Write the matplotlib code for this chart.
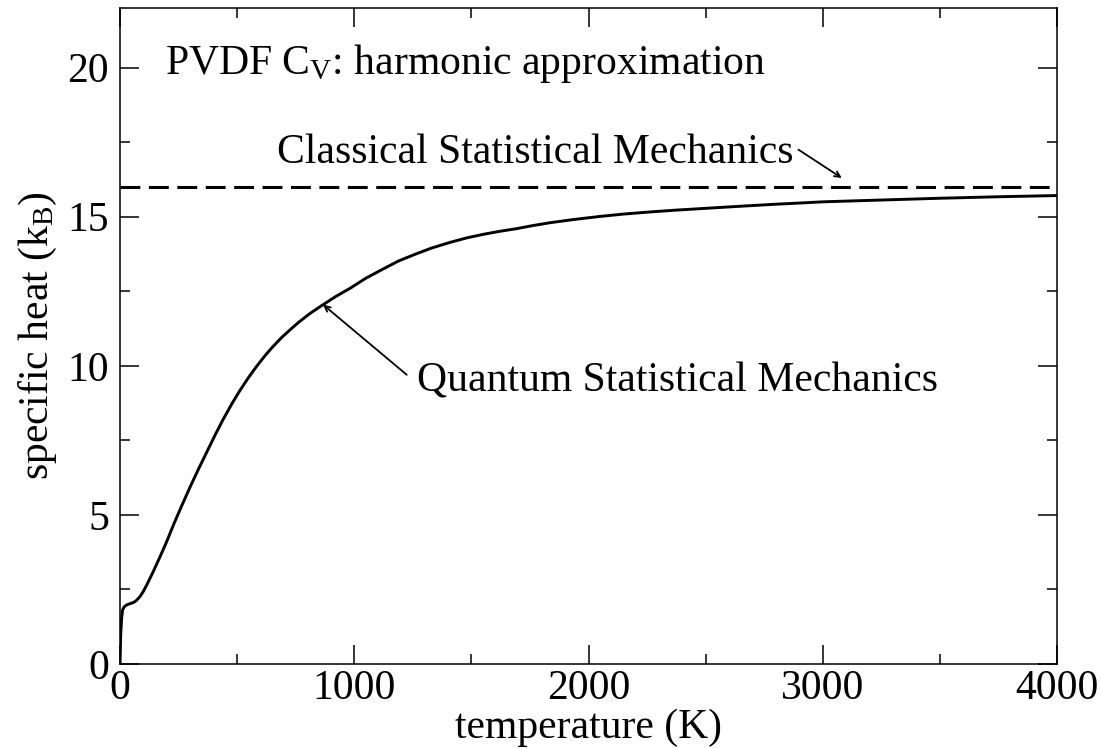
import numpy as np
import matplotlib
matplotlib.use("Agg")
import matplotlib.pyplot as plt
from matplotlib.ticker import MultipleLocator

# donnees
temperature = [0, 3, 7, 11, 18, 28, 45, 57, 70, 85, 100, 114, 142, 171, 199,
               230, 263, 300, 334, 370, 406, 440, 477, 510, 548, 580, 619, 650,
               690, 725, 761, 810, 861, 920, 982, 1050, 1124, 1190, 1266, 1330,
               1409, 1480, 1551, 1620, 1693, 1760, 1836, 1940, 2049, 2150,
               2262, 2370, 2476, 2580, 2689, 2800, 2903, 3000, 3250, 3500,
               3750, 4000]
cv_quantum = [0.0, 1.0, 1.55, 1.81, 1.92, 1.98, 2.03, 2.06, 2.13, 2.26, 2.44,
              2.65, 3.10, 3.60, 4.10, 4.7, 5.3, 5.95, 6.52, 7.1, 7.68, 8.2,
              8.72, 9.15, 9.6, 9.95, 10.34, 10.62, 10.95, 11.2, 11.45, 11.75,
              12.02, 12.32, 12.6, 12.94, 13.25, 13.52, 13.76, 13.95, 14.14,
              14.29, 14.41, 14.51, 14.6, 14.7, 14.8, 14.91, 15.01, 15.09,
              15.16, 15.22, 15.27, 15.32, 15.37, 15.42, 15.46, 15.5, 15.56,
              15.62, 15.67, 15.71]
cv_classical = 16.0

plt.rcParams['font.family'] = ['Liberation Serif', 'DejaVu Serif']
plt.rcParams['mathtext.fontset'] = 'custom'
plt.rcParams['mathtext.rm'] = 'Liberation Serif'
plt.rcParams['mathtext.it'] = 'Liberation Serif:italic'

fig = plt.figure(figsize=(11.02, 7.48), dpi=100)
ax = fig.add_axes([0.1089, 0.1123, 0.8503, 0.877])

ax.plot(temperature, cv_quantum, color='black', linewidth=2.1,
        solid_joinstyle='round')
ax.plot([0, 4000], [cv_classical, cv_classical], color='black',
        linewidth=2.2, dashes=(6.5, 2.8))

ax.set_xlim(0, 4000)
ax.set_ylim(0, 22)
ax.xaxis.set_major_locator(MultipleLocator(1000))
ax.xaxis.set_minor_locator(MultipleLocator(500))
ax.yaxis.set_major_locator(MultipleLocator(5))
ax.yaxis.set_minor_locator(MultipleLocator(2.5))
ax.tick_params(which='both', direction='in', top=True, right=True, width=1.1)
ax.tick_params(which='major', length=13.5, labelsize=30)
ax.tick_params(axis='x', which='major', pad=4)
ax.tick_params(axis='y', which='major', pad=8)
ax.tick_params(which='minor', length=7)
for s in ax.spines.values():
    s.set_linewidth(1.1)

ax.set_xlabel("temperature (K)", fontsize=30, labelpad=0)
ax.set_ylabel(r"specific heat (k$_\mathrm{B}$)", fontsize=30, labelpad=6)

ax.text(192, 19.8, r"PVDF C$_\mathrm{V}$: harmonic approximation",
        fontsize=30, va='baseline', ha='left')

# annotations avec fleches
ax.text(2873, 16.8, "Classical Statistical Mechanics", fontsize=30,
        ha='right', va='baseline')
ax.annotate("", xy=(3081, 16.3), xytext=(2896, 17.25),
            arrowprops=dict(arrowstyle='->', color='black', lw=1.3,
                            shrinkA=0, shrinkB=0))
ax.text(1266, 9.13, "Quantum Statistical Mechanics", fontsize=30,
        ha='left', va='baseline')
ax.annotate("", xy=(867, 12.05), xytext=(1224, 9.7),
            arrowprops=dict(arrowstyle='->', color='black', lw=1.3,
                            shrinkA=0, shrinkB=0))

fig.savefig("out.png", dpi=100)
